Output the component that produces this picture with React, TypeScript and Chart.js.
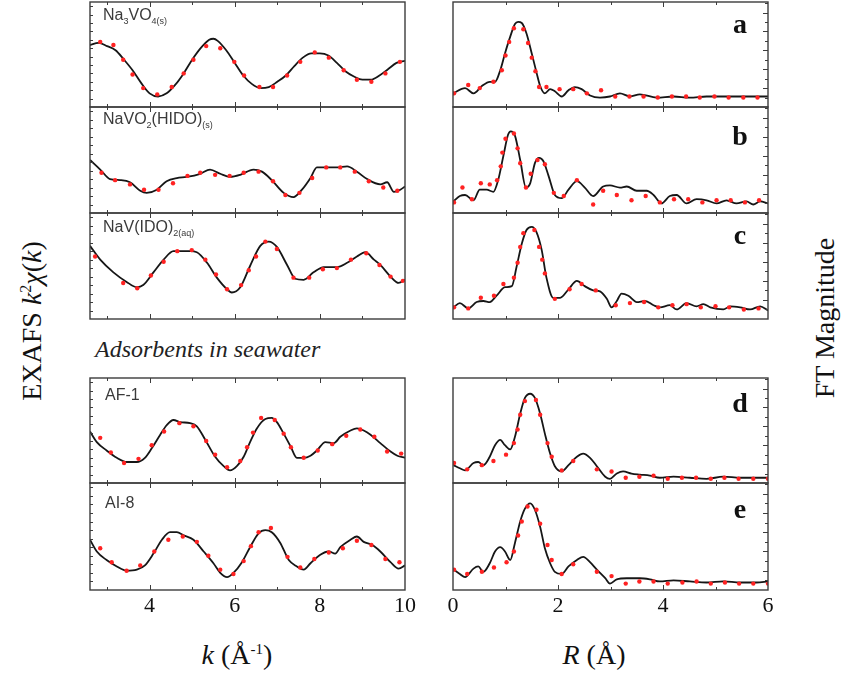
import React, { useEffect, useRef } from "react";
import { Chart, registerables } from "chart.js";
Chart.register(...registerables);

// ---------- k-space (EXAFS k^2 chi(k)), arbitrary units 0-100 ----------
const aK_x = [2.6,2.8,3.0,3.2,3.4,3.6,3.8,4.0,4.2,4.4,4.6,4.8,5.0,5.2,5.4,5.5,5.6,5.8,6.0,6.2,6.4,6.6,6.8,7.0,7.2,7.4,7.6,7.8,8.0,8.2,8.4,8.6,8.8,9.0,9.2,9.4,9.6,9.8,10.0];
const aK_y = [59,61,58,54,45,35,23,13,10,13,21,32,45,56,64,65,63,54,42,30,22,18,19,24,30,39,47,51,51,49,42,34,29,26,26,30,36,42,44];
const aKd_x = [2.84,3.15,3.38,3.60,3.85,4.18,4.52,4.80,5.03,5.33,5.66,5.99,6.22,6.58,6.90,7.23,7.54,7.88,8.21,8.56,8.87,9.21,9.54,9.88];
const aKd_y = [62,59,45,31,18,12,19,32,45,58,56,43,30,19,19,30,43,52,47,35,26,24,32,43];

const bK_x = [2.6,2.84,3.07,3.31,3.54,3.78,3.93,4.17,4.40,4.64,4.87,5.19,5.42,5.66,5.89,6.13,6.44,6.64,6.87,7.15,7.38,7.58,7.78,7.93,8.17,8.40,8.64,8.87,9.11,9.42,9.58,9.74,9.89,10.0];
const bK_y = [50,41,32,31,29,21,19,22,30,33,34,37,41,37,34,36,41,39,31,19,15,22,33,43,43,43,44,39,32,27,29,20,22,25];
const bKd_x = [2.87,3.19,3.54,3.87,4.21,4.55,4.89,5.19,5.54,5.88,6.21,6.56,6.90,7.19,7.52,7.82,8.15,8.48,8.82,9.15,9.49,9.82];
const bKd_y = [38,31,27,22,22,28,35,38,36,35,38,39,30,17,19,33,43,43,39,30,24,21];

const cK_x = [2.6,2.84,3.15,3.46,3.70,3.85,4.09,4.33,4.56,4.72,4.95,5.11,5.35,5.58,5.82,5.93,6.13,6.36,6.60,6.80,6.99,7.23,7.42,7.62,7.85,8.09,8.40,8.64,8.87,9.07,9.27,9.42,9.66,9.85,10.0];
const cK_y = [69,56,44,35,30,32,44,56,64,64,64,63,53,39,28,25,30,50,69,73,68,51,38,37,44,49,49,53,59,63,56,51,40,34,37];
const cKd_x = [2.72,3.38,3.71,4.03,4.33,4.65,4.99,5.31,5.56,5.82,6.15,6.33,6.50,6.72,6.99,7.38,7.75,8.07,8.40,8.73,9.09,9.40,9.66,9.95];
const cKd_y = [59,34,29,41,54,64,65,56,42,28,32,46,59,73,66,39,39,47,48,56,62,51,40,36];

const dK_x = [2.6,2.76,2.99,3.23,3.46,3.70,3.89,4.05,4.25,4.40,4.56,4.72,4.95,5.11,5.31,5.54,5.74,5.89,6.05,6.21,6.36,6.52,6.72,6.87,6.99,7.15,7.31,7.46,7.62,7.78,7.93,8.13,8.33,8.48,8.72,8.87,9.03,9.19,9.42,9.66,9.82,10.0];
const dK_y = [49,39,31,24,20,20,24,33,46,55,60,58,57,54,41,25,16,12,16,25,39,52,61,62,58,47,35,24,24,26,31,39,38,44,50,52,50,46,38,30,26,24];
const dKd_x = [2.84,3.09,3.40,3.74,4.05,4.34,4.70,5.03,5.33,5.54,5.82,6.13,6.29,6.43,6.62,6.94,7.15,7.32,7.62,7.95,8.29,8.62,8.95,9.28,9.58,9.91];
const dKd_y = [43,29,19,23,36,49,57,54,40,27,15,21,34,48,62,60,47,34,24,31,37,45,51,44,30,28];

const eK_x = [2.6,2.76,2.99,3.23,3.46,3.70,3.89,4.09,4.29,4.48,4.64,4.80,5.03,5.27,5.50,5.66,5.82,5.97,6.17,6.36,6.56,6.72,6.87,7.07,7.27,7.46,7.62,7.78,8.01,8.21,8.36,8.48,8.72,8.87,9.03,9.23,9.42,9.66,9.85,10.0];
const eK_y = [47,36,28,22,18,19,23,34,47,54,54,51,47,36,25,16,12,16,26,40,53,56,54,44,28,22,19,25,33,36,34,40,47,50,45,42,36,26,20,23];
const eKd_x = [2.84,3.11,3.46,3.78,4.11,4.44,4.78,5.11,5.38,5.66,5.97,6.21,6.38,6.56,6.85,7.24,7.54,7.87,8.21,8.54,8.87,9.21,9.54,9.87];
const eKd_y = [39,26,18,23,36,47,50,45,32,19,15,27,41,54,58,31,21,29,35,39,46,42,29,26];

// ---------- R-space (FT magnitude), arbitrary units 0-100 ----------
const aR_x = [0,0.23,0.39,0.55,0.70,0.80,0.90,0.99,1.09,1.18,1.24,1.31,1.40,1.50,1.59,1.66,1.75,1.85,1.94,2.07,2.20,2.32,2.45,2.61,2.80,2.99,3.18,3.37,3.56,3.88,4.20,4.51,4.83,5.15,5.47,5.78,6.0];
const aR_y = [13,18,13,20,24,24,35,51,67,79,81,80,70,51,33,20,13,17,15,10,16,19,17,11,9,10,13,10,12,9,10,9,10,10,10,10,10];
const aRd_x = [0.02,0.29,0.51,0.77,0.93,1.00,1.07,1.16,1.34,1.43,1.50,1.57,1.64,1.78,2.03,2.29,2.55,2.82,3.09,3.36,3.63,3.90,4.17,4.44,4.70,4.98,5.25,5.53,5.80];
const aRd_y = [13,21,18,24,35,49,62,75,74,61,47,34,19,19,17,17,13,16,10,10,10,9,10,10,9,10,9,9,9];

const bR_x = [0.01,0.13,0.23,0.39,0.51,0.64,0.77,0.86,0.96,1.05,1.10,1.18,1.28,1.39,1.47,1.56,1.64,1.72,1.82,1.94,2.07,2.20,2.36,2.51,2.67,2.86,2.99,3.18,3.31,3.50,3.69,3.82,3.97,4.13,4.26,4.45,4.64,4.83,5.02,5.21,5.40,5.59,5.72,5.85,6.0];
const bR_y = [11,16,17,12,22,22,20,31,54,74,77,73,50,24,28,47,52,49,35,17,14,22,30,24,16,25,26,24,25,21,21,17,9,16,17,9,13,12,9,12,9,11,8,11,9];
const bRd_x = [0.02,0.18,0.36,0.53,0.70,0.84,0.91,0.94,1.00,1.16,1.23,1.28,1.39,1.48,1.61,1.75,1.92,2.11,2.36,2.67,2.86,3.12,3.40,3.67,3.94,4.21,4.48,4.75,5.02,5.29,5.56,5.83];
const bRd_y = [10,24,13,28,27,31,44,57,70,75,61,47,24,37,50,46,19,16,31,8,21,17,12,16,10,13,13,10,12,12,10,12];

const cR_x = [0.01,0.13,0.29,0.45,0.58,0.70,0.83,0.99,1.12,1.21,1.31,1.40,1.50,1.59,1.69,1.78,1.91,2.04,2.20,2.36,2.51,2.67,2.80,2.93,3.02,3.12,3.21,3.34,3.50,3.66,3.82,3.94,4.13,4.26,4.45,4.64,4.77,4.90,5.15,5.28,5.47,5.66,5.85,6.0];
const cR_y = [11,15,10,16,17,16,22,30,31,49,71,84,87,82,65,39,20,20,28,36,31,27,26,19,11,17,24,22,16,17,13,11,13,9,15,12,14,11,9,12,11,9,12,8];
const cRd_x = [0.02,0.29,0.53,0.78,0.96,1.16,1.23,1.28,1.34,1.55,1.64,1.70,1.75,1.94,2.22,2.45,2.72,3.10,3.37,3.64,3.91,4.18,4.45,4.72,5.00,5.26,5.54,5.82];
const cRd_y = [11,10,20,22,33,39,53,68,81,84,68,56,43,19,28,33,27,13,15,16,11,13,14,11,12,11,9,10];

const dR_x = [0.01,0.13,0.23,0.39,0.48,0.58,0.70,0.80,0.90,0.99,1.09,1.18,1.28,1.37,1.47,1.56,1.66,1.75,1.85,1.94,2.07,2.20,2.36,2.48,2.61,2.74,2.90,2.99,3.12,3.24,3.40,3.56,3.75,3.94,4.20,4.51,4.83,5.15,5.47,5.78,6.0];
const dR_y = [17,14,12,19,20,17,25,36,41,36,32,44,66,81,85,81,66,47,28,16,11,17,25,28,24,16,6,4,9,11,9,8,7,5,6,5,4,6,5,5,5];
const dRd_x = [0.02,0.27,0.55,0.77,1.01,1.16,1.23,1.28,1.37,1.58,1.66,1.80,1.88,2.07,2.29,2.74,3.02,3.29,3.55,3.82,4.09,4.36,4.63,4.91,5.17,5.44,5.72,6.0];
const dRd_y = [19,13,17,21,27,38,51,65,78,79,65,38,25,12,21,13,11,5,6,7,4,5,5,4,5,4,4,4];

const eR_x = [0.01,0.13,0.23,0.39,0.48,0.58,0.70,0.80,0.90,0.99,1.09,1.18,1.28,1.37,1.47,1.56,1.66,1.75,1.85,1.94,2.07,2.20,2.36,2.48,2.61,2.74,2.90,2.99,3.12,3.31,3.56,3.75,3.94,4.20,4.51,4.83,5.15,5.47,5.78,6.0];
const eR_y = [19,15,12,20,22,17,25,36,40,36,28,44,64,76,81,75,59,39,25,17,15,22,28,31,26,19,11,6,10,11,11,10,8,9,8,7,8,7,7,8];
const eRd_x = [0.02,0.27,0.55,0.78,1.02,1.16,1.24,1.31,1.42,1.59,1.66,1.80,1.88,2.07,2.29,2.74,3.02,3.29,3.55,3.82,4.09,4.37,4.64,4.91,5.18,5.45,5.72,6.0];
const eRd_y = [19,15,17,21,26,36,51,64,78,75,62,42,28,15,24,17,13,6,8,8,6,7,8,6,7,6,6,6];

// ---------- axes ----------
const kTicks = [3,4,5,6,7,8,9];
const kLabels = [4,6,8,10];
const rTicks = [1,2,3,4,5];
const rLabels = [0,2,4,6];

const PAD = 6;
const LABEL_PAD = 20;
const BOTTOM_PAD = 40;

type PanelDef = {
  fitX: number[]; fitY: number[]; expX: number[]; expY: number[];
  kind: "k" | "R";
  left: number; right: number; top: number; bottom: number;
  showLabels: boolean;
};

const ROWS: [number, number][] = [[2,107],[107,213],[213,319],[378,483],[483,590]];
const LEFT_COL: [number, number] = [90, 405];
const RIGHT_COL: [number, number] = [453, 768];

const kSeries = [
  [aK_x, aK_y, aKd_x, aKd_y],
  [bK_x, bK_y, bKd_x, bKd_y],
  [cK_x, cK_y, cKd_x, cKd_y],
  [dK_x, dK_y, dKd_x, dKd_y],
  [eK_x, eK_y, eKd_x, eKd_y],
];
const rSeries = [
  [aR_x, aR_y, aRd_x, aRd_y],
  [bR_x, bR_y, bRd_x, bRd_y],
  [cR_x, cR_y, cRd_x, cRd_y],
  [dR_x, dR_y, dRd_x, dRd_y],
  [eR_x, eR_y, eRd_x, eRd_y],
];

const panels: PanelDef[] = [];
ROWS.forEach(([t, b], i) => {
  const ks = kSeries[i];
  panels.push({ fitX: ks[0], fitY: ks[1], expX: ks[2], expY: ks[3], kind: "k",
    left: LEFT_COL[0], right: LEFT_COL[1], top: t, bottom: b, showLabels: i === 4 });
  const rs = rSeries[i];
  panels.push({ fitX: rs[0], fitY: rs[1], expX: rs[2], expY: rs[3], kind: "R",
    left: RIGHT_COL[0], right: RIGHT_COL[1], top: t, bottom: b, showLabels: i === 4 });
});

function makeFrame(p: PanelDef) {
  return {
    id: "frame",
    afterDraw(chart: any) {
      const { ctx, chartArea } = chart;
      const { left, right, top, bottom } = chartArea;
      const xs = chart.scales.x;
      const ys = chart.scales.y;
      ctx.save();
      ctx.strokeStyle = "#3c3c3c";
      ctx.lineWidth = 1.4;
      ctx.strokeRect(left, top, right - left, bottom - top);
      ctx.lineWidth = 1;
      ctx.beginPath();
      const xt = p.kind === "k" ? kTicks : rTicks;
      xt.forEach((v) => {
        const px = Math.round(xs.getPixelForValue(v)) + 0.5;
        const major = v % 2 === 0;
        const len = major ? 5 : 3;
        ctx.moveTo(px, bottom); ctx.lineTo(px, bottom - len);
        ctx.moveTo(px, top); ctx.lineTo(px, top + len);
      });
      if (p.kind === "k") {
        for (let v = 8; v < 100; v += 8) {
          const py = Math.round(ys.getPixelForValue(v)) + 0.5;
          ctx.moveTo(left, py); ctx.lineTo(left + 3, py);
        }
      } else {
        let i = 0;
        for (let v = 9; v < 100; v += 9) {
          const py = Math.round(ys.getPixelForValue(v)) + 0.5;
          const len = i % 2 === 1 ? 5 : 3;
          ctx.moveTo(right, py); ctx.lineTo(right - len, py);
          i++;
        }
      }
      ctx.stroke();
      if (p.showLabels) {
        ctx.fillStyle = "#111";
        ctx.font = '22px "Liberation Serif", "Times New Roman", serif';
        ctx.textAlign = "center";
        ctx.textBaseline = "middle";
        const labels = p.kind === "k" ? kLabels : rLabels;
        labels.forEach((v) => {
          ctx.fillText(String(v), xs.getPixelForValue(v), bottom + 16);
        });
      }
      ctx.restore();
    },
  };
}

function PanelChart({ p }: { p: PanelDef }) {
  const ref = useRef<HTMLCanvasElement>(null);
  const bp = p.showLabels ? BOTTOM_PAD : PAD;
  const sp = p.showLabels ? LABEL_PAD : PAD;
  const w = p.right - p.left + 2 * sp;
  const h = p.bottom - p.top + PAD + bp;
  useEffect(() => {
    const toPts = (xs: number[], ys: number[]) => xs.map((x, i) => ({ x, y: ys[i] }));
    const chart = new Chart(ref.current as HTMLCanvasElement, {
      type: "scatter",
      data: {
        datasets: [
          {
            type: "line",
            data: toPts(p.fitX, p.fitY),
            borderColor: "#161616",
            borderWidth: 1.8,
            pointRadius: 0,
            cubicInterpolationMode: "monotone",
            fill: false,
            order: 2,
          } as any,
          {
            type: "scatter",
            data: toPts(p.expX, p.expY),
            pointRadius: 2.2,
            pointBackgroundColor: "#ff2222",
            pointBorderWidth: 0,
            order: 1,
          } as any,
        ],
      },
      options: {
        animation: false,
        responsive: false,
        devicePixelRatio: 1,
        events: [],
        layout: { padding: { left: sp, right: sp, top: PAD, bottom: bp } },
        scales: {
          x: { type: "linear", min: p.kind === "k" ? 2.6 : 0, max: p.kind === "k" ? 10 : 6, display: false },
          y: { type: "linear", min: 0, max: 100, display: false },
        },
        plugins: { legend: { display: false }, tooltip: { enabled: false } },
      },
      plugins: [makeFrame(p)],
    });
    return () => chart.destroy();
  }, []);
  return (
    <canvas
      ref={ref}
      width={w}
      height={h}
      style={{ position: "absolute", left: p.left - sp, top: p.top - PAD, width: w, height: h }}
    />
  );
}

const sans = '"Liberation Sans", Arial, sans-serif';
const serif = '"Liberation Serif", "Times New Roman", serif';

const sampleLabel: React.CSSProperties = {
  position: "absolute", left: 103, fontFamily: sans, fontSize: 16, lineHeight: 1,
  color: "#3a3a3a", whiteSpace: "nowrap",
};
const sub: React.CSSProperties = { fontSize: 9, verticalAlign: "-4px" };
const letter: React.CSSProperties = {
  position: "absolute", left: 726, width: 28, textAlign: "center", fontFamily: serif,
  fontWeight: "bold", fontSize: 28, lineHeight: 1, color: "#111",
};

export default function App() {
  useEffect(() => {
    document.body.style.margin = "0";
  }, []);
  return (
    <div style={{ position: "absolute", left: 0, top: 0, width: 841, height: 676, background: "#fff", overflow: "hidden" }}>
      {panels.map((p, i) => <PanelChart key={i} p={p} />)}

      <div style={{ ...sampleLabel, top: 7 }}>Na<span style={sub}>3</span>VO<span style={sub}>4(s)</span></div>
      <div style={{ ...sampleLabel, top: 111 }}>NaVO<span style={sub}>2</span>(HIDO)<span style={sub}>(s)</span></div>
      <div style={{ ...sampleLabel, top: 219 }}>NaV(IDO)<span style={sub}>2(aq)</span></div>
      <div style={{ ...sampleLabel, top: 387, left: 105 }}>AF-1</div>
      <div style={{ ...sampleLabel, top: 495, left: 105 }}>AI-8</div>

      <div style={{ ...letter, top: 10 }}>a</div>
      <div style={{ ...letter, top: 122 }}>b</div>
      <div style={{ ...letter, top: 221 }}>c</div>
      <div style={{ ...letter, top: 389 }}>d</div>
      <div style={{ ...letter, top: 495 }}>e</div>

      <div style={{ position: "absolute", left: 95, top: 337, fontFamily: serif, fontStyle: "italic", fontSize: 24, lineHeight: 1, color: "#222", whiteSpace: "nowrap" }}>
        Adsorbents in seawater
      </div>

      <div style={{ position: "absolute", left: 32, top: 321, transform: "translate(-50%, -50%) rotate(-90deg)", fontFamily: serif, fontSize: 28, lineHeight: 1, whiteSpace: "nowrap", color: "#111" }}>
        EXAFS <i>k</i><sup style={{ fontSize: 16 }}>2</sup><i>χ</i>(<i>k</i>)
      </div>
      <div style={{ position: "absolute", left: 825, top: 318, transform: "translate(-50%, -50%) rotate(-90deg)", fontFamily: serif, fontSize: 28, lineHeight: 1, whiteSpace: "nowrap", color: "#111" }}>
        FT Magnitude
      </div>
      <div style={{ position: "absolute", left: 237, top: 655, transform: "translate(-50%, -50%)", fontFamily: serif, fontSize: 28, lineHeight: 1, whiteSpace: "nowrap", color: "#111" }}>
        <i>k</i> (Å<sup style={{ fontSize: 15 }}>-1</sup>)
      </div>
      <div style={{ position: "absolute", left: 594, top: 655, transform: "translate(-50%, -50%)", fontFamily: serif, fontSize: 28, lineHeight: 1, whiteSpace: "nowrap", color: "#111" }}>
        <i>R</i> (Å)
      </div>
    </div>
  );
}
